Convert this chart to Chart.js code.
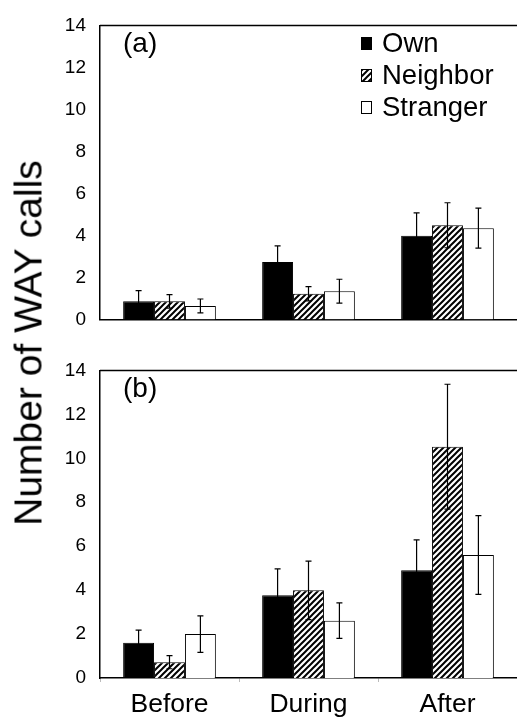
<!DOCTYPE html>
<html>
<head>
<meta charset="utf-8">
<script src="https://cdn.jsdelivr.net/npm/chart.js@4"></script>
<style>
    body { margin: 0; background: #fff; width: 517px; height: 726px; position: relative; overflow: hidden; }
    canvas { position: absolute; left: 0; }
    #chartA { top: 0; }
    #chartB { top: 345px; }
    #yTitle {
        position: absolute; left: 28px; top: 343px;
        transform: translate(-50%, -50%) rotate(-90deg);
        font: 39px "Liberation Sans", Arial, sans-serif;
        line-height: 1; white-space: nowrap; color: #000;
    }
</style>
</head>
<body>
<canvas id="chartA" width="517" height="345"></canvas>
<canvas id="chartB" width="517" height="381"></canvas>
<div id="yTitle">Number of WAY calls</div>
<script>
// categories and series
const categories = ['Before', 'During', 'After'];
const seriesNames = ['Own', 'Neighbor', 'Stranger'];
const yTicks = [0, 2, 4, 6, 8, 10, 12, 14];

// panel (a)
const ownA = [0.87, 2.74, 3.99];
const ownErrA = [0.51, 0.77, 1.09];
const neighborA = [0.87, 1.23, 4.49];
const neighborErrA = [0.32, 0.34, 1.07];
const strangerA = [0.65, 1.35, 4.35];
const strangerErrA = [0.33, 0.57, 0.95];

// panel (b)
const ownB = [1.61, 3.77, 4.90];
const ownErrB = [0.57, 1.20, 1.39];
const neighborB = [0.72, 3.99, 10.53];
const neighborErrB = [0.30, 1.33, 2.84];
const strangerB = [2.00, 2.61, 5.60];
const strangerErrB = [0.83, 0.81, 1.79];

const FONT = '"Liberation Sans", Arial, sans-serif';

function hatch(ctx) {
    const c = document.createElement('canvas');
    c.width = 6; c.height = 6;
    const g = c.getContext('2d');
    g.fillStyle = '#fff';
    g.fillRect(0, 0, 6, 6);
    g.strokeStyle = '#000';
    g.lineWidth = 2;
    g.beginPath();
    g.moveTo(0, 6); g.lineTo(6, 0);
    g.moveTo(-1, 1); g.lineTo(1, -1);
    g.moveTo(5, 7); g.lineTo(7, 5);
    g.stroke();
    return ctx.createPattern(c, 'repeat');
}

// error bars: +/- one value from ds.errors
const errorBars = {
    id: 'errorBars',
    afterDatasetsDraw(chart) {
        const ctx = chart.ctx, y = chart.scales.y;
        ctx.save();
        ctx.strokeStyle = '#000';
        ctx.lineWidth = 1.2;
        chart.data.datasets.forEach((ds, i) => {
            chart.getDatasetMeta(i).data.forEach((bar, j) => {
                const top = y.getPixelForValue(ds.data[j] + ds.errors[j]);
                const bot = y.getPixelForValue(ds.data[j] - ds.errors[j]);
                ctx.beginPath();
                ctx.moveTo(bar.x, top); ctx.lineTo(bar.x, bot);
                ctx.moveTo(bar.x - 3, top); ctx.lineTo(bar.x + 3, top);
                ctx.moveTo(bar.x - 3, bot); ctx.lineTo(bar.x + 3, bot);
                ctx.stroke();
            });
        });
        ctx.restore();
    }
};

// top frame line, panel letter and (optional) legend
const panelDecor = {
    id: 'panelDecor',
    afterDraw(chart, args, opts) {
        const ctx = chart.ctx, area = chart.chartArea;
        ctx.save();
        ctx.strokeStyle = '#000';
        ctx.lineWidth = 1.5;
        ctx.beginPath();
        ctx.moveTo(area.left, area.top);
        ctx.lineTo(area.right, area.top);
        ctx.stroke();

        ctx.fillStyle = '#000';
        ctx.textBaseline = 'middle';
        ctx.font = '28px ' + FONT;
        ctx.fillText(opts.label, 123, 44);

        if (opts.legend) {
            ctx.font = '27.5px ' + FONT;
            chart.data.datasets.forEach((ds, i) => {
                const cy = 43 + i * 32;
                ctx.fillStyle = ds.backgroundColor;
                ctx.fillRect(361, cy - 6, 11, 13);
                ctx.lineWidth = 1;
                ctx.strokeRect(361.5, cy - 5.5, 10, 12);
                ctx.fillStyle = '#000';
                ctx.fillText(ds.label, 382, cy + 1);
            });
        }
        ctx.restore();
    }
};

function makePanel(id, label, showX, padTop, values, errors, legend) {
    const canvas = document.getElementById(id);
    const ctx = canvas.getContext('2d');
    const fills = ['#000', hatch(ctx), '#fff'];
    return new Chart(canvas, {
        type: 'bar',
        data: {
            labels: categories,
            datasets: seriesNames.map((name, i) => ({
                label: name,
                data: values[i],
                errors: errors[i],
                backgroundColor: fills[i],
                borderColor: '#000',
                borderWidth: 1,
                categoryPercentage: 0.667,
                barPercentage: 1
            }))
        },
        options: {
            responsive: false,
            animation: false,
            layout: { padding: { top: padTop, left: 0, right: 0, bottom: 0 } },
            plugins: {
                legend: { display: false },
                tooltip: { enabled: false },
                panelDecor: { label: label, legend: legend }
            },
            scales: {
                x: {
                    grid: { display: showX, drawOnChartArea: false, drawTicks: true, tickLength: 4, color: '#bbb' },
                    border: { display: true, color: '#000', width: 1.5 },
                    ticks: { display: showX, padding: 7, color: '#000', font: { size: 26.5, family: FONT } },
                    afterFit: s => { s.height = showX ? 48 : 12; }
                },
                y: {
                    min: 0,
                    max: 14,
                    afterBuildTicks: s => { s.ticks = yTicks.map(v => ({ value: v })); },
                    grid: { display: false, drawTicks: false },
                    border: { display: true, color: '#000', width: 1.5 },
                    ticks: { padding: 14, color: '#000', font: { size: 19, family: FONT } },
                    afterFit: s => { s.width = 100; }
                }
            }
        },
        plugins: [errorBars, panelDecor]
    });
}

const chartA = makePanel('chartA', '(a)', false, 15,
    [ownA, neighborA, strangerA], [ownErrA, neighborErrA, strangerErrA], true);

const chartB = makePanel('chartB', '(b)', true, 16.5,
    [ownB, neighborB, strangerB], [ownErrB, neighborErrB, strangerErrB], false);
</script>
</body>
</html>
